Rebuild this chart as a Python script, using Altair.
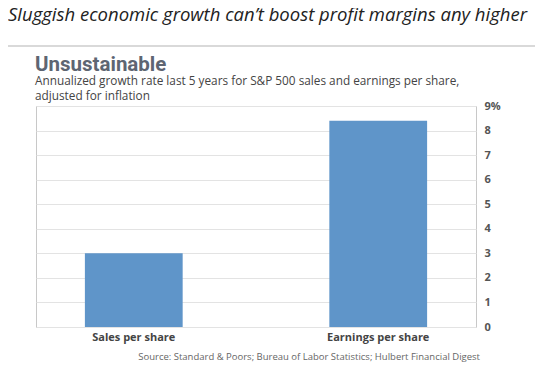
import altair as alt
import pandas as pd

categories = ["Sales per share", "Earnings per share"]
growth = [3.0, 8.4]
y_ticks = [0, 1, 2, 3, 4, 5, 6, 7, 8, 9]

title_text = "Sluggish economic growth can\u2019t boost profit margins any higher"
head_text = "Unsustainable"
sub1 = "Annualized growth rate last 5 years for S&P 500 sales and earnings per share,"
sub2 = "adjusted for inflation"
source_text = "Source: Standard & Poors; Bureau of Labor Statistics; Hulbert Financial Digest"

df = pd.DataFrame({"cat": categories, "val": growth})
one = pd.DataFrame({"k": [0]})

bars = alt.Chart(df).mark_bar(color="#5f95c9").encode(
    x=alt.X("cat:N", sort=categories,
            scale=alt.Scale(paddingInner=0.6, paddingOuter=0.2),
            axis=alt.Axis(title=None, labelAngle=0, domain=False, ticks=False,
                          labelFont="Open Sans", labelFontSize=11, labelFontWeight="bold",
                          labelColor="#444444", labelPadding=4)),
    y=alt.Y("val:Q", scale=alt.Scale(domain=[0, 9], nice=False),
            axis=alt.Axis(title=None, orient="right", values=y_ticks, domain=False, ticks=False,
                          grid=True, gridColor="#e3e3e3", gridWidth=1,
                          labelFont="Open Sans", labelFontSize=11, labelFontWeight="bold",
                          labelColor="#555555", labelPadding=8,
                          labelExpr="datum.value == 9 ? '9%' : datum.label")),
)

def txt(s, x, y, size, font="Open Sans", weight="normal", style="normal", color="#333333", align="left"):
    return alt.Chart(one).mark_text(text=s, font=font, fontSize=size, fontWeight=weight,
                                    fontStyle=style, color=color, align=align,
                                    baseline="alphabetic").encode(x=alt.value(x), y=alt.value(y))

title = txt(title_text, -28, -85, 18.5, style="italic", color="#222222")
rule = alt.Chart(one).mark_rule(color="#cccccc", strokeWidth=1.5).encode(
    x=alt.value(-36), x2=alt.value(500), y=alt.value(-60))
head = txt(head_text, -1, -35, 20.5, font="Roboto", weight="bold", color="#5e6572")
s1 = txt(sub1, -1, -21, 11.8, color="#444444")
s2 = txt(sub2, -1, -6, 11.8, color="#444444")
src = txt(source_text, 444, 254, 9.5, color="#666666", align="right")

chart = alt.layer(bars, title, rule, head, s1, s2, src).properties(
    width=440, height=221,
    autosize=alt.AutoSizeParams(type="none"),
    padding={"left": 28, "top": 98, "right": 59, "bottom": 36},
).configure_view(stroke="#c8c8c8", strokeWidth=1)

chart.save("out.html", embed_options={"renderer": "svg", "actions": False})
